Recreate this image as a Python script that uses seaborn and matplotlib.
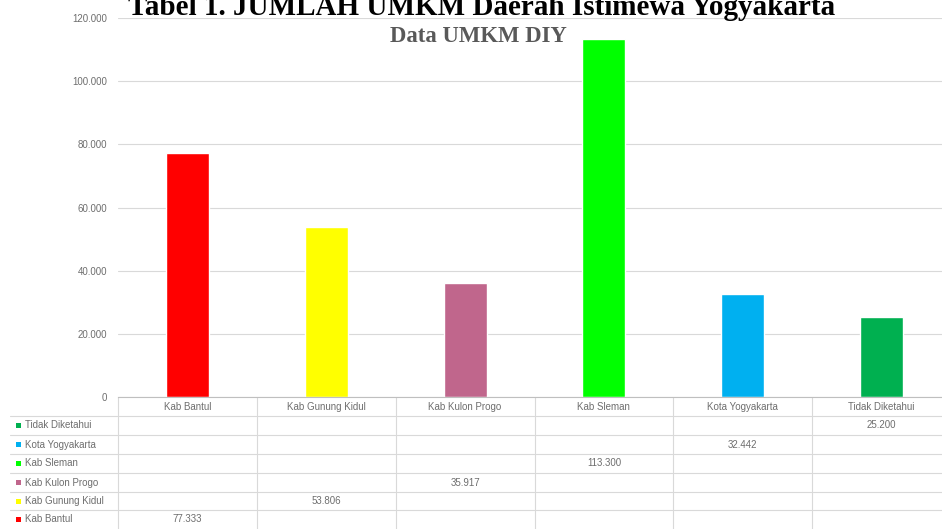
import matplotlib
matplotlib.use("Agg")
import matplotlib.pyplot as plt
import matplotlib.transforms as mtransforms
from matplotlib.lines import Line2D
from matplotlib.patches import Rectangle
import seaborn as sns
import pandas as pd

# ---- data ----
categories = ["Kab Bantul", "Kab Gunung Kidul", "Kab Kulon Progo",
              "Kab Sleman", "Kota Yogyakarta", "Tidak Diketahui"]
values = [77333, 53806, 35917, 113300, 32442, 25200]
value_labels = ["77.333", "53.806", "35.917", "113.300", "32.442", "25.200"]
colors = ["#FF0000", "#FFFF00", "#C0668C", "#00FF00", "#00B0F0", "#00B050"]
y_ticks = [0, 20000, 40000, 60000, 80000, 100000, 120000]
y_tick_labels = ["0", "20.000", "40.000", "60.000", "80.000", "100.000", "120.000"]
title = "Tabel 1. JUMLAH UMKM Daerah Istimewa Yogyakarta"
subtitle = "Data UMKM DIY"

W, H = 942, 529
sns.set_theme(style="white")
plt.rcParams['font.family'] = ['Liberation Sans', 'DejaVu Sans']

fig = plt.figure(figsize=(W / 100, H / 100), dpi=100)
fig.patch.set_facecolor("white")

def fx(px):
    return px / W

def fy(py):
    return 1 - py / H

left, right, top, bottom = 118, 951, 18.3, 396.7
ax = fig.add_axes([fx(left), fy(bottom), fx(right - left), (bottom - top) / H])

df = pd.DataFrame({"cat": categories, "val": values})
sns.barplot(data=df, x="cat", y="val", hue="cat", palette=colors,
            width=0.31, legend=False, ax=ax, saturation=1)

ax.set_xlim(-0.5, len(categories) - 0.5)
ax.set_ylim(0, 120000)
ax.set_yticks(y_ticks)
ax.set_yticklabels(y_tick_labels)
ax.set_xlabel("")
ax.set_ylabel("")
ax.grid(axis="y", color="#D9D9D9", linewidth=0.8)
ax.set_axisbelow(True)
for s in ["left", "right", "top"]:
    ax.spines[s].set_visible(False)
ax.spines["bottom"].set_color("#BFBFBF")
ax.spines["bottom"].set_linewidth(0.8)
txt_color = "#6E6E6E"
ax.tick_params(axis="y", length=0, pad=8, labelsize=7, labelcolor=txt_color)
ax.tick_params(axis="x", length=0, pad=4, labelsize=7, labelcolor=txt_color)

# ---- data table below axis ----
blend = mtransforms.blended_transform_factory(ax.transData, fig.transFigure)
line_color = "#D9D9D9"
n = len(categories)
# vertical column boundaries
for i in range(n + 1):
    ax.add_line(Line2D([i - 0.5, i - 0.5], [fy(396.7), fy(529)], transform=blend,
                       color=line_color, linewidth=0.8, clip_on=False))
# horizontal row lines
row_lines = [416, 435, 454, 473, 492, 510]
for yl in row_lines:
    fig.add_artist(Line2D([fx(10), fx(951)], [fy(yl), fy(yl)],
                          color=line_color, linewidth=0.8))

row_centers = [519.5, 501, 482.5, 463.5, 444.5, 425.5]  # Bantul ... Tidak Diketahui
for i, cat in enumerate(categories):
    yc = row_centers[i]
    # legend key + name
    fig.add_artist(Rectangle((fx(15.5), fy(yc + 2.5)), fx(5), 5 / H,
                             facecolor=colors[i], edgecolor="none"))
    fig.text(fx(25), fy(yc), cat, ha="left", va="center", fontsize=7, color=txt_color)
    # value in its column
    ax.text(i, fy(yc), value_labels[i], transform=blend, ha="center", va="center",
            fontsize=7, color=txt_color, clip_on=False)

# ---- titles ----
fig.text(fx(482), fy(15), title, ha="center", va="baseline",
         fontfamily="Liberation Serif", fontweight="bold", fontsize=21, color="black")
fig.text(fx(478), fy(42), subtitle, ha="center", va="baseline",
         fontfamily="Liberation Serif", fontweight="bold", fontsize=16.4, color="#595959")

fig.savefig("out.png", dpi=100, facecolor="white")
